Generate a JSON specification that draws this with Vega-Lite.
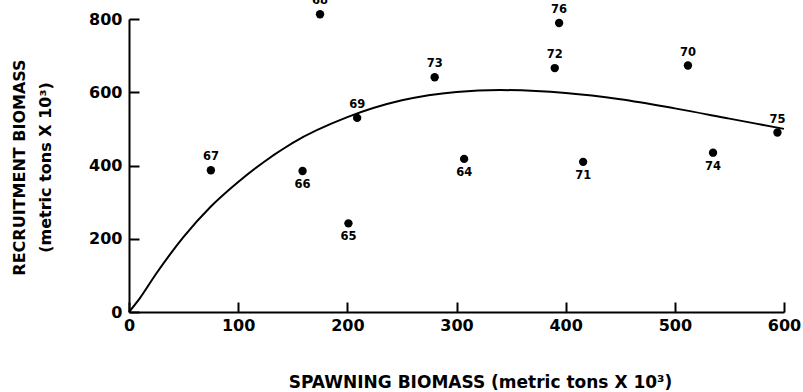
{
  "$schema": "https://vega.github.io/schema/vega-lite/v6.json",
  "width": 655,
  "height": 293,
  "autosize": {"type": "none"},
  "padding": {"left": 129, "top": 19, "right": 19, "bottom": 80},
  "background": "white",
  "config": {
    "view": {"stroke": null},
    "axis": {
      "grid": false,
      "domainColor": "black",
      "domainWidth": 2,
      "tickColor": "black",
      "tickWidth": 2,
      "tickSize": -10,
      "labelFlush": false,
      "labelFont": "DejaVu Sans",
      "labelFontWeight": "bold",
      "labelFontSize": 16,
      "labelColor": "black",
      "titleFont": "DejaVu Sans",
      "titleFontWeight": "bold",
      "titleFontSize": 16,
      "titleColor": "black"
    }
  },
  "datasets": {
    "points": [
      {"year": "64", "spawning": 307, "recruitment": 418},
      {"year": "65", "spawning": 201, "recruitment": 242},
      {"year": "66", "spawning": 159, "recruitment": 385},
      {"year": "67", "spawning": 75, "recruitment": 387},
      {"year": "68", "spawning": 175, "recruitment": 813},
      {"year": "69", "spawning": 209, "recruitment": 530},
      {"year": "70", "spawning": 512, "recruitment": 673},
      {"year": "71", "spawning": 416, "recruitment": 410},
      {"year": "72", "spawning": 390, "recruitment": 666},
      {"year": "73", "spawning": 280, "recruitment": 641},
      {"year": "74", "spawning": 535, "recruitment": 435},
      {"year": "75", "spawning": 594, "recruitment": 490},
      {"year": "76", "spawning": 394, "recruitment": 789}
    ],
    "curve": [
      {"spawning": 0, "recruitment": 0},
      {"spawning": 10, "recruitment": 38},
      {"spawning": 25, "recruitment": 105},
      {"spawning": 50, "recruitment": 205},
      {"spawning": 75, "recruitment": 288},
      {"spawning": 100, "recruitment": 355},
      {"spawning": 150, "recruitment": 462},
      {"spawning": 200, "recruitment": 532},
      {"spawning": 250, "recruitment": 578},
      {"spawning": 300, "recruitment": 601},
      {"spawning": 340, "recruitment": 606},
      {"spawning": 400, "recruitment": 598},
      {"spawning": 450, "recruitment": 581},
      {"spawning": 500, "recruitment": 556},
      {"spawning": 550, "recruitment": 528},
      {"spawning": 600, "recruitment": 500}
    ]
  },
  "layer": [
    {
      "data": {"name": "curve"},
      "mark": {"type": "line", "color": "black", "strokeWidth": 2, "interpolate": "monotone"},
      "encoding": {
        "x": {
          "field": "spawning",
          "type": "quantitative",
          "scale": {"domain": [0, 600], "nice": false},
          "axis": {
            "values": [0, 100, 200, 300, 400, 500, 600],
            "labelPadding": 15,
            "title": "SPAWNING BIOMASS  (metric tons  X  10³)",
            "titleFontSize": 17,
            "titleX": 351,
            "titleY": 70,
            "titleBaseline": "middle",
            "titleAlign": "center"
          }
        },
        "y": {
          "field": "recruitment",
          "type": "quantitative",
          "scale": {"domain": [0, 800], "nice": false},
          "axis": {
            "values": [0, 200, 400, 600, 800],
            "labelPadding": 17,
            "title": ["RECRUITMENT BIOMASS", "(metric tons  X  10³)"],
            "titleLineHeight": 26,
            "titleAngle": -90,
            "titleX": -110,
            "titleY": 148,
            "titleBaseline": "middle",
            "titleAlign": "center"
          }
        }
      }
    },
    {
      "data": {"name": "points"},
      "mark": {"type": "circle", "color": "black", "opacity": 1, "size": 70},
      "encoding": {
        "x": {"field": "spawning", "type": "quantitative"},
        "y": {"field": "recruitment", "type": "quantitative"}
      }
    },
    {
      "data": {"name": "points"},
      "transform": [{"filter": {"field": "year", "oneOf": ["67", "68", "69", "70", "72", "73", "75", "76"]}}],
      "mark": {"type": "text", "color": "black", "font": "DejaVu Sans", "fontWeight": "bold", "fontSize": 11.5, "dy": -13, "baseline": "middle"},
      "encoding": {
        "x": {"field": "spawning", "type": "quantitative"},
        "y": {"field": "recruitment", "type": "quantitative"},
        "text": {"field": "year"}
      }
    },
    {
      "data": {"name": "points"},
      "transform": [{"filter": {"field": "year", "oneOf": ["64", "65", "66", "71", "74"]}}],
      "mark": {"type": "text", "color": "black", "font": "DejaVu Sans", "fontWeight": "bold", "fontSize": 11.5, "dy": 14, "baseline": "middle"},
      "encoding": {
        "x": {"field": "spawning", "type": "quantitative"},
        "y": {"field": "recruitment", "type": "quantitative"},
        "text": {"field": "year"}
      }
    }
  ]
}
